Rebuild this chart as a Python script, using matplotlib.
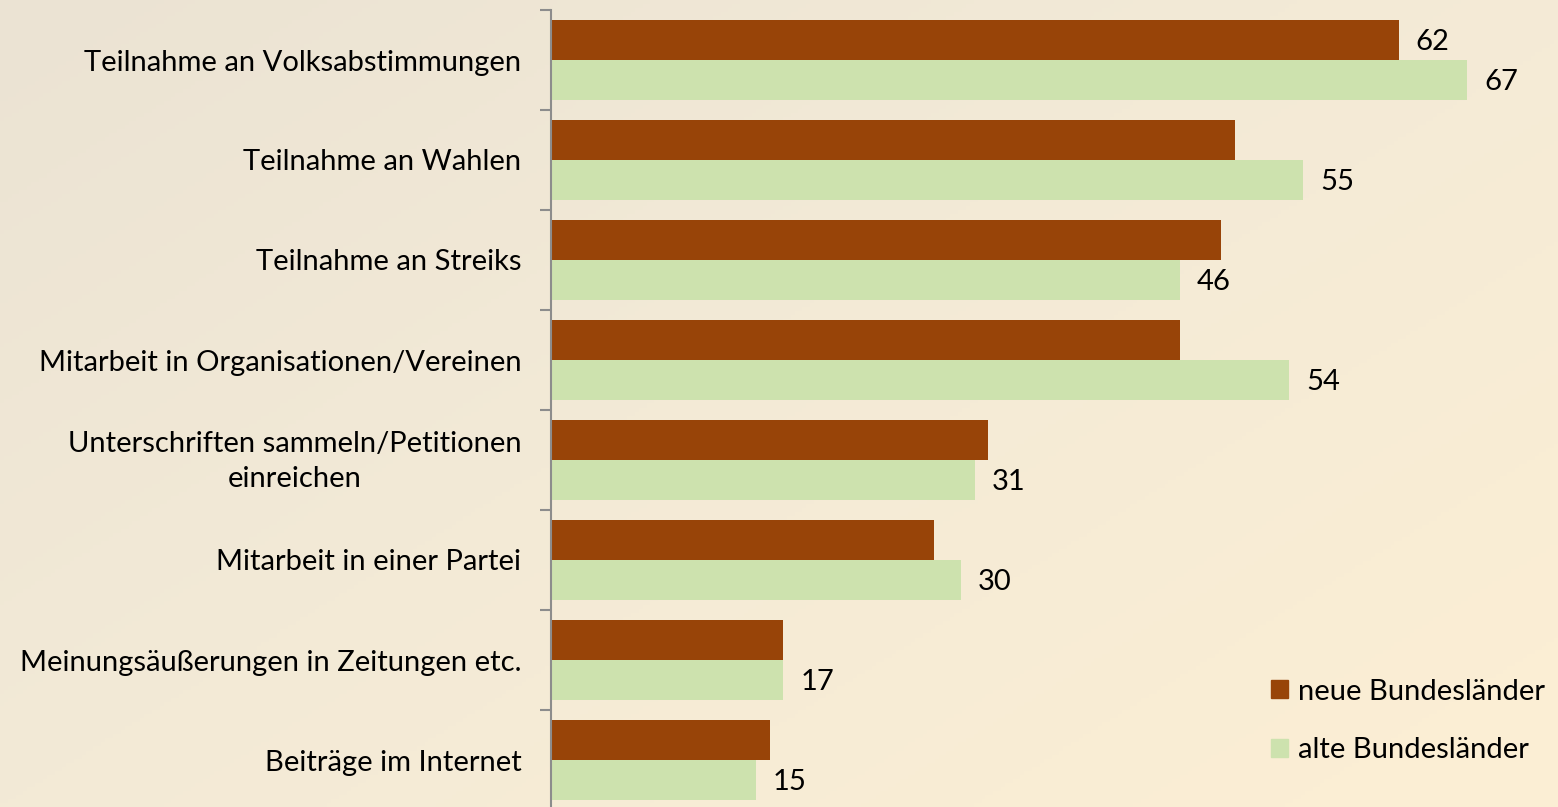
import numpy as np
import matplotlib
matplotlib.use("Agg")
import matplotlib.pyplot as plt
from matplotlib.patches import Patch
from matplotlib.colors import LinearSegmentedColormap
from matplotlib.transforms import ScaledTranslation

categories = [
    "Teilnahme an Volksabstimmungen",
    "Teilnahme an Wahlen",
    "Teilnahme an Streiks",
    "Mitarbeit in Organisationen/Vereinen",
    "Unterschriften sammeln/Petitionen\neinreichen",
    "Mitarbeit in einer Partei",
    "Meinungsäußerungen in Zeitungen etc.",
    "Beiträge im Internet",
]
neue = [62, 50, 49, 46, 32, 28, 17, 16]
alte = [67, 55, 46, 54, 31, 30, 17, 15]
neue_labels = ["62", "", "", "", "", "", "", ""]
alte_labels = ["67", "55", "46", "54", "31", "30", "17", "15"]
series_names = ["neue Bundesländer", "alte Bundesländer"]

C_NEUE = "#984408"
C_ALTE = "#cde2ae"
FONT = "Lato"
FS = 21

W, H = 1558, 807
fig = plt.figure(figsize=(W / 100, H / 100), dpi=100)

# gradient background
bg = fig.add_axes([0, 0, 1, 1], zorder=-10)
yy, xx = np.mgrid[0:1:200j, 0:1:400j]
t = np.clip(0.6 * xx + 0.5 * yy, 0, 1)
cmap = LinearSegmentedColormap.from_list("bg", ["#ebe3d3", "#f3ead7", "#fbeed4"])
bg.imshow(t, cmap=cmap, aspect="auto", extent=[0, 1, 1, 0], vmin=0, vmax=1)
bg.axis("off")

left = 551 / W
top = 1 - 10 / H
bottom = (H - 810) / H
ax = fig.add_axes([left, bottom, 1 - left, top - bottom])
ax.patch.set_alpha(0)

n = len(categories)
y = np.arange(n)
bh = 0.4
ax.barh(y - bh / 2, neue, height=bh, color=C_NEUE, label=series_names[0])
ax.barh(y + bh / 2, alte, height=bh, color=C_ALTE, label=series_names[1])

pxu = (1467 - 551) / 67.0
xmax = (W - 551) / pxu
ax.set_xlim(0, xmax)
ax.set_ylim(n - 0.5, -0.5)

off = 17 / pxu
for i in range(n):
    if neue_labels[i]:
        ax.text(neue[i] + off, y[i] - bh / 2 + 0.02, neue_labels[i], va="center", ha="left",
                fontsize=FS, family=FONT, color="black")
    if alte_labels[i]:
        ax.text(alte[i] + off, y[i] + bh / 2 + 0.02, alte_labels[i], va="center", ha="left",
                fontsize=FS, family=FONT, color="black")

ax.set_yticks(np.arange(-0.5, n, 1.0))
ax.set_yticklabels([])
ax.set_yticks(y, minor=True)
ax.set_yticklabels(categories, minor=True, fontsize=FS, family=FONT,
                   multialignment="center", linespacing=1.45)
ax.tick_params(axis="y", which="minor", length=0, pad=30)
ax.tick_params(axis="y", which="major", length=8, width=1.5, color="#8c8c8c", direction="out")
ax.set_xticks([])
for s in ["top", "right", "bottom"]:
    ax.spines[s].set_visible(False)
ax.spines["left"].set_color("#8c8c8c")
ax.spines["left"].set_linewidth(1.5)

# shift category labels so right edge sits ~30 px left of axis
for lab in ax.get_yticklabels(minor=True):
    dy = 6 / 100 if "\n" in lab.get_text() else 0
    lab.set_transform(lab.get_transform() + ScaledTranslation(12 / 100, dy, fig.dpi_scale_trans))

handles = [Patch(color=C_NEUE), Patch(color=C_ALTE)]
leg = fig.legend(handles, series_names, loc="upper left",
                 bbox_to_anchor=(1259 / W, 1 - 667 / H),
                 frameon=False, prop={"family": FONT, "size": FS},
                 handlelength=0.58, handleheight=0.58, handletextpad=0.35,
                 labelspacing=1.12, borderaxespad=0)

fig.savefig("out.png", dpi=100)
